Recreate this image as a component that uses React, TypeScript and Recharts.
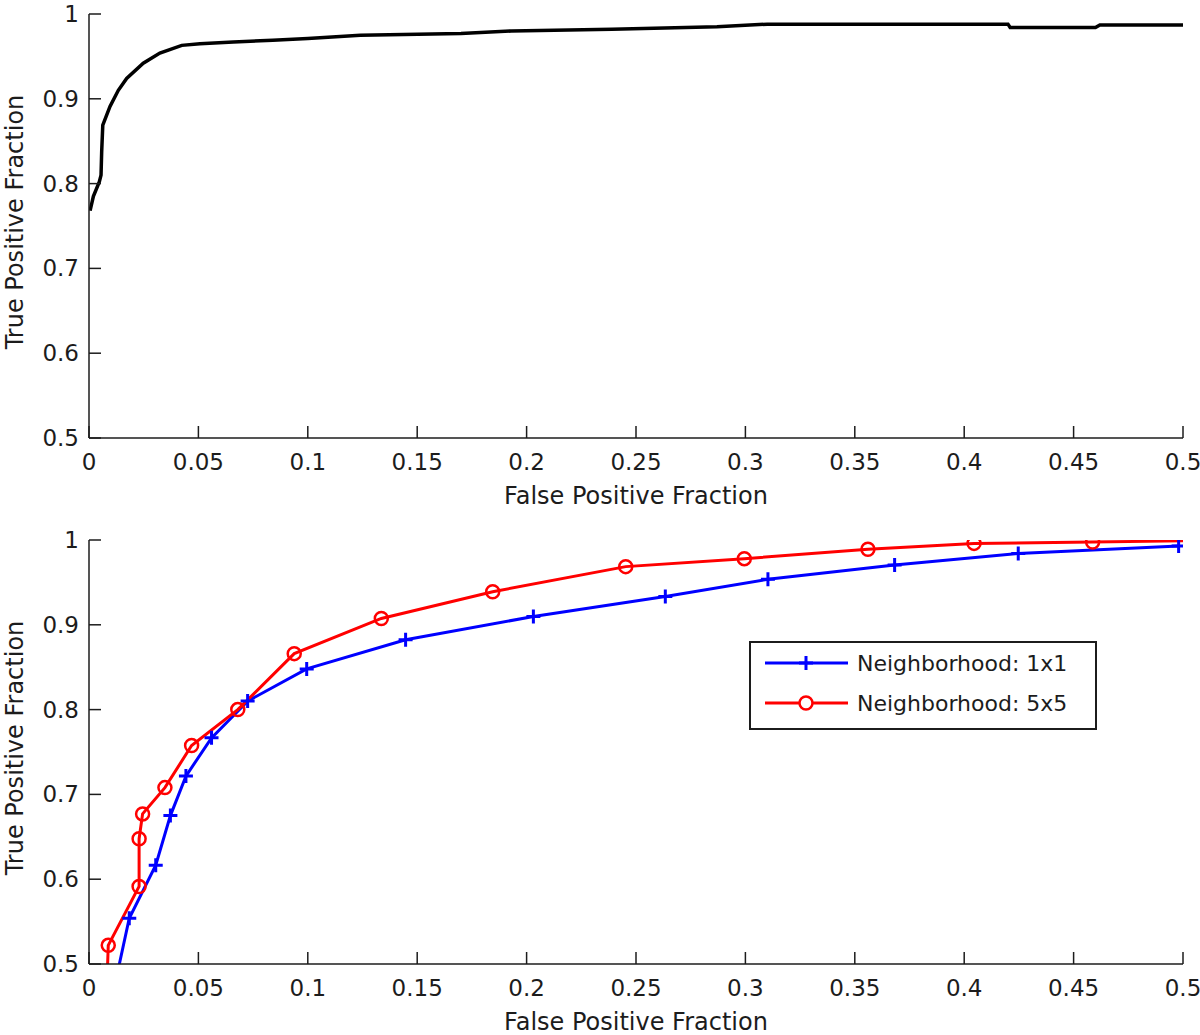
import React from 'react';
import { LineChart, Line, XAxis, YAxis, Legend } from 'recharts';

// ---------- data ----------
const xTickValues = [0, 0.05, 0.1, 0.15, 0.2, 0.25, 0.3, 0.35, 0.4, 0.45, 0.5];
const xTickLabels = ['0', '0.05', '0.1', '0.15', '0.2', '0.25', '0.3', '0.35', '0.4', '0.45', '0.5'];
const yTickValues = [0.5, 0.6, 0.7, 0.8, 0.9, 1];
const yTickLabels = ['0.5', '0.6', '0.7', '0.8', '0.9', '1'];

const xTitle = 'False Positive Fraction';
const yTitle = 'True Positive Fraction';

// top panel (single ROC curve)
const topFpf = [0.0005, 0.002, 0.0047, 0.0055, 0.0058, 0.0063, 0.0096, 0.0134, 0.0172, 0.0248, 0.0324, 0.0424, 0.0507, 0.066, 0.084, 0.1, 0.124, 0.17, 0.193, 0.239, 0.287, 0.31, 0.42, 0.421, 0.46, 0.462, 0.5];
const topTpf = [0.768, 0.785, 0.802, 0.81, 0.838, 0.869, 0.891, 0.91, 0.924, 0.942, 0.954, 0.963, 0.965, 0.967, 0.969, 0.971, 0.975, 0.977, 0.98, 0.982, 0.985, 0.988, 0.988, 0.984, 0.984, 0.987, 0.987];

// bottom panel
const seriesNames = ['Neighborhood: 1x1', 'Neighborhood: 5x5'];
const blueFpf = [0.0097, 0.0184, 0.0305, 0.0372, 0.0443, 0.056, 0.0725, 0.0995, 0.1447, 0.2031, 0.2634, 0.3103, 0.3682, 0.4247, 0.498];
const blueTpf = [0.45, 0.554, 0.6165, 0.675, 0.7216, 0.7667, 0.81, 0.848, 0.8824, 0.9098, 0.9333, 0.9537, 0.9706, 0.984, 0.993];
const redFpf = [0.008, 0.0088, 0.0229, 0.0229, 0.0245, 0.0347, 0.0469, 0.068, 0.0938, 0.1336, 0.1845, 0.2453, 0.2995, 0.356, 0.4045, 0.4587, 0.53];
const redTpf = [0.46, 0.522, 0.5914, 0.6478, 0.677, 0.708, 0.7576, 0.8, 0.866, 0.9075, 0.939, 0.9686, 0.978, 0.989, 0.996, 0.9976, 1.0];

const topData = topFpf.map((x, i) => ({ x, y: topTpf[i] }));
const blueData = blueFpf.map((x, i) => ({ x, y: blueTpf[i] }));
const redData = redFpf.map((x, i) => ({ x, y: redTpf[i] }));

// ---------- styles ----------
const FONT = '"DejaVu Sans", "Liberation Sans", sans-serif';
const FS_TICK = 23;
const FS_TITLE = 24;
const FS_LEGEND = 22;
const INK = '#1c1c1c';
const TICK_LEN = 12;
const BLUE = '#0000ff';
const RED = '#ff0000';

const labelOf = (vals: number[], labels: string[], v: number) => {
  const i = vals.findIndex((t) => Math.abs(t - v) < 1e-9);
  return i >= 0 ? labels[i] : '';
};

const BottomTick = (props: any) => {
  const { x, y, payload } = props;
  return (
    <g>
      <line x1={x} y1={y} x2={x} y2={y - TICK_LEN} stroke={INK} strokeWidth={1.5} />
      <text x={x} y={y + 32} textAnchor="middle" fontFamily={FONT} fontSize={FS_TICK} fill={INK}>
        {labelOf(xTickValues, xTickLabels, payload.value)}
      </text>
    </g>
  );
};

const TopTick = (props: any) => {
  const { x, y } = props;
  return <line x1={x} y1={y} x2={x} y2={y + TICK_LEN} stroke={INK} strokeWidth={1.5} />;
};

const LeftTick = (props: any) => {
  const { x, y, payload } = props;
  return (
    <g>
      <line x1={x} y1={y} x2={x + TICK_LEN} y2={y} stroke={INK} strokeWidth={1.5} />
      <text x={x - 10} y={y + 8} textAnchor="end" fontFamily={FONT} fontSize={FS_TICK} fill={INK}>
        {labelOf(yTickValues, yTickLabels, payload.value)}
      </text>
    </g>
  );
};

const RightTick = (props: any) => {
  const { x, y } = props;
  return <line x1={x} y1={y} x2={x - TICK_LEN} y2={y} stroke={INK} strokeWidth={1.5} />;
};

const XTitle = (props: any) => {
  const vb = props.viewBox || {};
  return (
    <text x={vb.x + vb.width / 2} y={vb.y + 66} textAnchor="middle" fontFamily={FONT} fontSize={FS_TITLE} fill={INK}>
      {xTitle}
    </text>
  );
};

const YTitle = (props: any) => {
  const vb = props.viewBox || {};
  const cx = 23;
  const cy = vb.y + vb.height / 2 - 4;
  return (
    <text x={cx} y={cy} transform={`rotate(-90, ${cx}, ${cy})`} textAnchor="middle" fontFamily={FONT} fontSize={FS_TITLE} fill={INK}>
      {yTitle}
    </text>
  );
};

const PlusDot = (p: any) => {
  const { cx, cy } = p;
  if (cx == null || cy == null) return <g />;
  return <path d={`M${cx - 7},${cy}H${cx + 7}M${cx},${cy - 7}V${cy + 7}`} stroke={BLUE} strokeWidth={3} fill="none" />;
};

const CircleDot = (p: any) => {
  const { cx, cy } = p;
  if (cx == null || cy == null) return <g />;
  return <circle cx={cx} cy={cy} r={6.5} stroke={RED} strokeWidth={2.5} fill="none" />;
};

const LegendBox = (props: any) => {
  const payload = props.payload || [];
  return (
    <svg width={348} height={89} style={{ display: 'block' }}>
      <rect x={1} y={1} width={346} height={87} fill="#fff" stroke={INK} strokeWidth={2} />
      {payload.map((entry: any, i: number) => {
        const cy = 22 + i * 40;
        const color = entry.color;
        return (
          <g key={i}>
            <line x1={16} y1={cy} x2={99} y2={cy} stroke={color} strokeWidth={3} />
            {i === 0 ? (
              <path d={`M50,${cy}H64M57,${cy - 7}V${cy + 7}`} stroke={color} strokeWidth={3} fill="none" />
            ) : (
              <circle cx={57} cy={cy} r={6.5} stroke={color} strokeWidth={2.5} fill="#fff" />
            )}
            <text x={108} y={cy + 8} fontFamily={FONT} fontSize={FS_LEGEND} fill={INK}>
              {entry.value}
            </text>
          </g>
        );
      })}
    </svg>
  );
};

const axisLine = { stroke: INK, strokeWidth: 1.5 };

const Frame = (bottomH: number) => [
  <XAxis key="xb" xAxisId={0} type="number" dataKey="x" domain={[0, 0.5]} allowDataOverflow ticks={xTickValues} interval={0}
    orientation="bottom" height={bottomH} tickSize={0} tickMargin={0} tickLine={false} axisLine={axisLine}
    tick={<BottomTick />} label={{ content: <XTitle /> } as any} />,
  <XAxis key="xt" xAxisId="top" type="number" dataKey="x" domain={[0, 0.5]} allowDataOverflow ticks={xTickValues} interval={0}
    orientation="top" height={0} tickSize={0} tickMargin={0} tickLine={false} axisLine={axisLine} tick={<TopTick />} />,
  <YAxis key="yl" yAxisId={0} type="number" domain={[0.5, 1]} allowDataOverflow ticks={yTickValues} interval={0}
    orientation="left" width={89} tickSize={0} tickMargin={0} tickLine={false} axisLine={axisLine}
    tick={<LeftTick />} label={{ content: <YTitle /> } as any} />,
  <YAxis key="yr" yAxisId="right" type="number" domain={[0.5, 1]} allowDataOverflow ticks={yTickValues} interval={0}
    orientation="right" width={0} tickSize={0} tickMargin={0} tickLine={false} axisLine={axisLine} tick={<RightTick />} />,
];

export default function App() {
  return (
    <div style={{ position: 'absolute', left: 0, top: 0, width: 1200, height: 1035, background: '#fff', overflow: 'hidden' }}>
      <div style={{ position: 'absolute', left: 0, top: 0 }}>
        <LineChart width={1200} height={520} margin={{ top: 14, right: 17, bottom: 0, left: 0 }}>
          {Frame(82)}
          <Line data={topData} dataKey="y" type="linear" stroke="#000" strokeWidth={3.5} dot={false} activeDot={false} isAnimationActive={false} />
        </LineChart>
      </div>
      <div style={{ position: 'absolute', left: 0, top: 520 }}>
        <LineChart width={1200} height={515} margin={{ top: 20, right: 17, bottom: 0, left: 0 }}>
          {Frame(71)}
          <Line data={blueData} dataKey="y" name={seriesNames[0]} type="linear" stroke={BLUE} strokeWidth={3} dot={<PlusDot />} activeDot={false} isAnimationActive={false} />
          <Line data={redData} dataKey="y" name={seriesNames[1]} type="linear" stroke={RED} strokeWidth={3} dot={<CircleDot />} activeDot={false} isAnimationActive={false} />
          <Legend layout="horizontal" verticalAlign="middle" align="center" content={<LegendBox />}
            wrapperStyle={{ left: 749, top: 121, width: 348, height: 89 }} />
        </LineChart>
      </div>
    </div>
  );
}
